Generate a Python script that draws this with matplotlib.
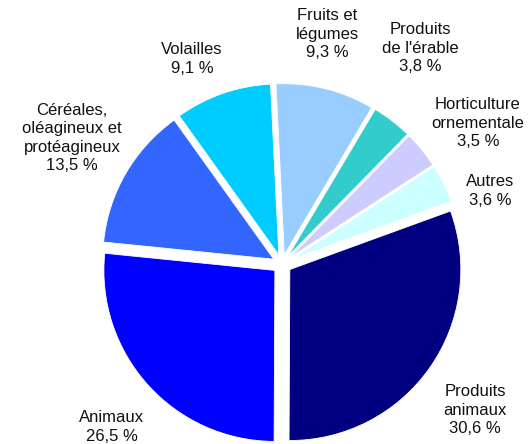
import matplotlib
matplotlib.use("Agg")
import matplotlib.pyplot as plt

plt.rcParams["font.family"] = ["Liberation Sans", "DejaVu Sans"]

# Parts des recettes, ordre horaire depuis le haut
categories = ["Fruits et\nlégumes", "Produits\nde l'érable", "Horticulture\nornementale",
              "Autres", "Produits\nanimaux", "Animaux",
              "Céréales,\noléagineux et\nprotéagineux", "Volailles"]
values = [9.3, 3.8, 3.5, 3.6, 30.6, 26.5, 13.5, 9.1]
colors = ["#99CCFF", "#33CCCC", "#CCCCFF", "#CCFFFF",
          "#000080", "#0000FF", "#3366FF", "#00CCFF"]

# label centres in pixels (figure is 530 x 444)
label_px = [(327, 34), (420, 48), (478, 123), (490, 191),
            (475, 410), (112, 427), (72, 138), (192, 59)]

W, H = 530, 444
cx, cy, R = 282, 264, 171  # pie centre / radius in pixels

fig = plt.figure(figsize=(W / 100, H / 100), dpi=100)
ax = fig.add_axes([0, 0, 1, 1])

ax.pie(values, colors=colors, startangle=92.8, counterclock=False,
       explode=[0.056] * len(values),
       wedgeprops=dict(linewidth=0.6, edgecolor="white"))

ax.set_xlim(-cx / R, (W - cx) / R)
ax.set_ylim(-(H - cy) / R, cy / R)
ax.set_aspect("auto")
ax.axis("off")

for name, v, (px, py) in zip(categories, values, label_px):
    txt = name + "\n" + f"{v:.1f}".replace(".", ",") + " %"
    ax.text((px - cx) / R, (cy - py) / R, txt, ha="center", va="center",
            fontsize=12, color="#111111", linespacing=1.3)

fig.savefig("out.png", dpi=100)
